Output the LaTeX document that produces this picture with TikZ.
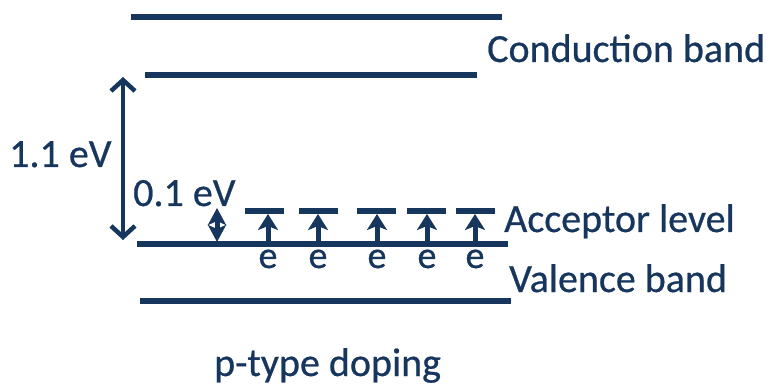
\documentclass[tikz,border=0pt]{standalone}
\usepackage{fontspec}
\setmainfont[FakeBold=0.6]{Carlito}
\usetikzlibrary{arrows.meta}
\definecolor{navy}{RGB}{23,54,93}
\begin{document}
\begin{tikzpicture}[x=1pt,y=-1pt,
  band/.style={draw=navy,line width=5.5pt},
  acc/.style={draw=navy,line width=6pt},
  uparrow/.style={draw=navy,line width=5pt,-{Stealth[length=16pt,width=20pt,inset=4pt]}},
  gap/.style={draw=navy,line width=4.5pt,{Straight Barb[length=11pt,width=24pt]}-{Straight Barb[length=11pt,width=24pt]}},
  small/.style={draw=navy,line width=5pt,{Stealth[length=17pt,width=18pt,inset=4pt]}-{Stealth[length=17pt,width=18pt,inset=4pt]}},
  lbl/.style={text=navy,font=\fontsize{40}{44}\selectfont,inner sep=0pt,anchor=base west},
  elbl/.style={text=navy,font=\fontsize{38}{42}\selectfont,inner sep=0pt,anchor=base}]
\useasboundingbox (0,0) rectangle (773,387);
% band edges
\coordinate (c1a) at (131,17);  \coordinate (c1b) at (502,17);
\coordinate (c2a) at (145,75);  \coordinate (c2b) at (477,75);
\coordinate (v1a) at (137,244); \coordinate (v1b) at (508,244);
\coordinate (v2a) at (140,301); \coordinate (v2b) at (511,301);
\draw[band] (c1a) -- (c1b);
\draw[band] (c2a) -- (c2b);
\draw[band] (v1a) -- (v1b);
\draw[band] (v2a) -- (v2b);
% acceptor levels and arrows
\foreach \i/\a/\b/\m in {1/245/284/268, 2/299/338/318, 3/357/396/377, 4/407/446/427, 5/456/495/475}{
  \coordinate (la\i) at (\a,211);
  \coordinate (lb\i) at (\b,211);
  \draw[acc] (la\i) -- (lb\i);
  \coordinate (s\i) at (\m,242);
  \coordinate (t\i) at (\m,214);
  \draw[uparrow] (s\i) -- (t\i);
  \node[elbl] (e\i) at (\m,268) {e};
}
% gap arrows
\coordinate (g1) at (123,77);
\coordinate (g2) at (123,240);
\draw[gap] (g1) -- (g2);
\coordinate (h1) at (217,208);
\coordinate (h2) at (217,242);
\draw[small] (h1) -- (h2);
% labels
\node[lbl] (cb) at (487,62) {Conduction band};
\node[lbl] (ev1) at (9,167) {1.1 eV};
\node[lbl] (ev2) at (133,206) {0.1 eV};
\node[lbl] (al) at (504,232) {Acceptor level};
\node[lbl] (vb) at (509,292) {Valence band};
\node[lbl] (pt) at (214,376) {p-type doping};
\end{tikzpicture}
\end{document}
